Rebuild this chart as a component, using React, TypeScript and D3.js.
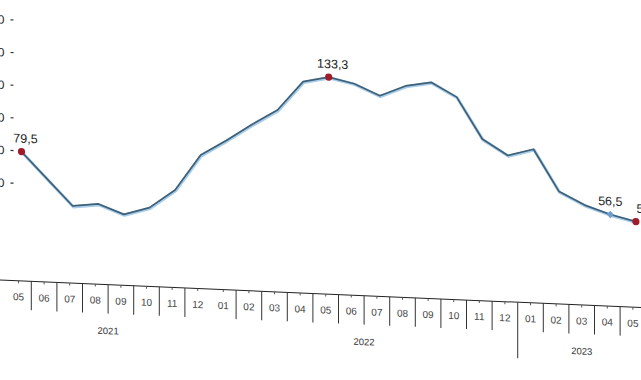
import React from "react";
import * as d3 from "d3";

const months = ["05","06","07","08","09","10","11","12","01","02","03","04","05","06","07","08","09","10","11","12","01","02","03","04","05"];
const values = [79.5, 63.5, 47.6, 49.5, 43.8, 48.6, 60.1, 82.2, 91.8, 102.2, 111.8, 129.9, 133.3, 129.9, 123.2, 129.9, 132.8, 124.4, 99.4, 90.0, 94.5, 69.2, 61.6, 56.5, 52.8];
const years = ["2021", "2022", "2023"];
const yearStart = [0, 8, 20];
const yearEnd = [7, 19, 24];
const yTicks = [60, 80, 100, 120, 140, 160];
const redPoints = [0, 12, 24];
const bluePoints = [23];
const labelledPoints = [0, 12, 23, 24];

const W = 641;
const H = 380;

export default function App() {
  const idx = values.map((_, i) => i);
  const x = d3.scalePoint<number>().domain(idx).range([21.5, 21.5 + 25.6 * 24]);
  const y = d3.scaleLinear().domain([60, 160]).range([182.6, 19.4]);
  const step = x.step();
  const ax = (i: number) => (x(i) as number) - 3;
  const axisY = 280;

  const line = d3.line<number>().x((d, i) => x(i) as number).y((d) => y(d)).curve(d3.curveLinear);
  const path = line(values) || "";
  const fmt = (v: number) => v.toFixed(1).replace(".", ",");
  const font = "'Liberation Sans', Arial, sans-serif";

  // separators between categories (the 2021/2022 boundary is not drawn in the reference)
  const seps: { x: number; long: boolean }[] = [];
  for (let i = 0; i < values.length - 1; i++) {
    const isYearBoundary = yearStart.includes(i + 1);
    if (isYearBoundary && i + 1 === yearStart[1]) continue;
    seps.push({ x: ax(i) + step / 2, long: isYearBoundary });
  }

  return (
    <div style={{ position: "fixed", left: 0, top: 0 }}>
      <svg width={W} height={H} style={{ display: "block", background: "#fff" }}>
        <g transform="skewY(2.46)">
          {/* y axis ticks */}
          {yTicks.map((t) => (
            <g key={t}>
              <text x={4.5} y={y(t) + 4.2} textAnchor="end" fontFamily={font} fontSize={12} fill="#222">
                {t}
              </text>
              <line x1={10.5} x2={13.5} y1={y(t)} y2={y(t)} stroke="#333" strokeWidth={1.2} />
            </g>
          ))}

          {/* line */}
          <path d={path} fill="none" stroke="#a9cdea" strokeWidth={3.2} transform="translate(0.6,0.8)" strokeLinejoin="round" />
          <path d={path} fill="none" stroke="#3e6077" strokeWidth={1.7} strokeLinejoin="round" />

          {bluePoints.map((i) => (
            <rect key={"b" + i} x={(x(i) as number) - 2.6} y={y(values[i]) - 2.6} width={5.2} height={5.2}
              fill="#6d9ec9" transform={`rotate(45 ${x(i)} ${y(values[i])})`} />
          ))}
          {redPoints.map((i) => (
            <circle key={"r" + i} cx={x(i) as number} cy={y(values[i])} r={3.6} fill="#a11b2b" />
          ))}

          {labelledPoints.map((i) => {
            const last = i === values.length - 1;
            const dx = last ? 0.5 : i === 23 ? 0 : 4;
            return (
              <text key={"l" + i} x={(x(i) as number) + dx} y={y(values[i]) - 9} textAnchor={last ? "start" : "middle"}
                fontFamily={font} fontSize={12.5} fill="#222">
                {fmt(values[i])}
              </text>
            );
          })}

          {/* x axis */}
          <line x1={0} x2={W + 20} y1={axisY} y2={axisY} stroke="#222" strokeWidth={1} />
          {idx.map((i) => (
            <line key={"t" + i} x1={ax(i)} x2={ax(i)} y1={axisY} y2={axisY + 2.5} stroke="#555" strokeWidth={1} />
          ))}
          {seps.map((s, k) => (
            <line key={"s" + k} x1={s.x} x2={s.x} y1={axisY} y2={axisY + (s.long ? 56 : 29)} stroke="#333" strokeWidth={1} />
          ))}
          {months.map((m, i) => (
            <text key={"m" + i} x={ax(i)} y={axisY + 19.5} textAnchor="middle" fontFamily={font} fontSize={10} fill="#444">
              {m}
            </text>
          ))}
          {years.map((yr, k) => {
            const c = (ax(yearStart[k]) - step / 2 + ax(yearEnd[k]) + step / 2) / 2;
            return (
              <text key={yr} x={c} y={axisY + 49.5} textAnchor="middle" fontFamily={font} fontSize={9.5} fill="#333">
                {yr}
              </text>
            );
          })}
        </g>
      </svg>
    </div>
  );
}
